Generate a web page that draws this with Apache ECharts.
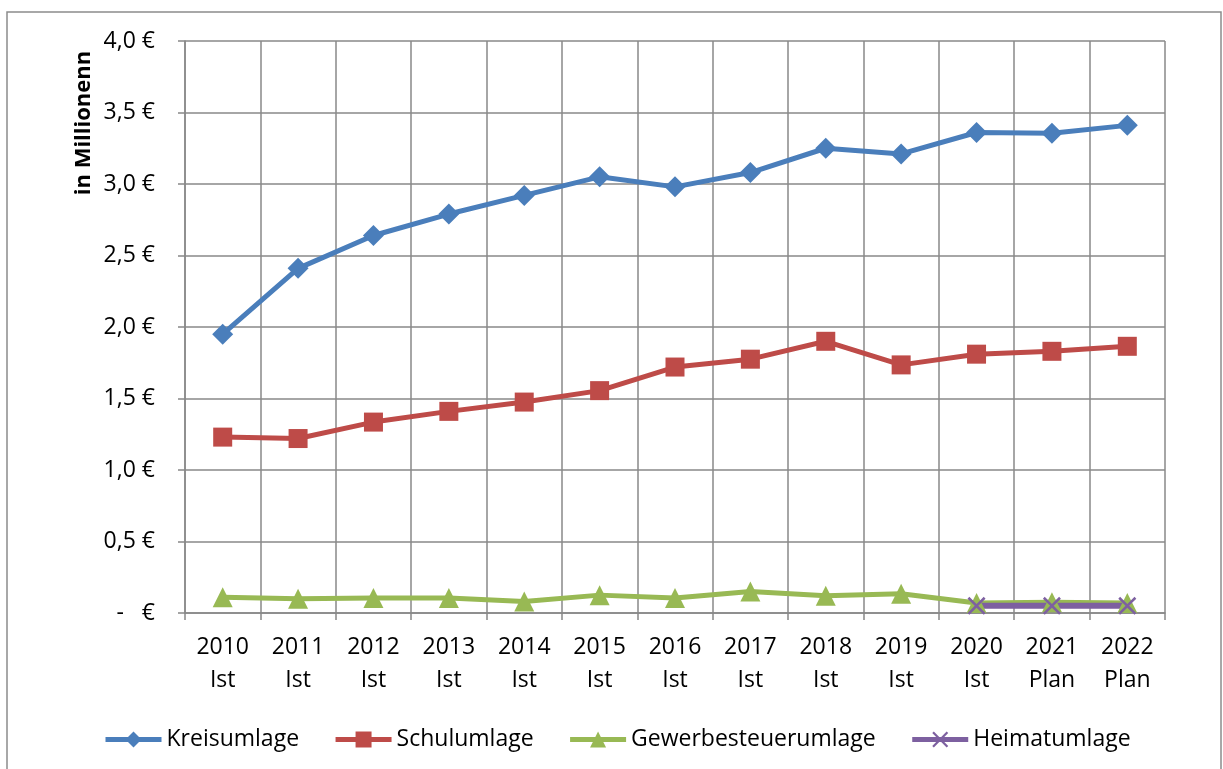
<!DOCTYPE html>
<html>
<head>
<meta charset="utf-8">
<title>Umlagen</title>
<script src="https://cdn.jsdelivr.net/npm/echarts@6/dist/echarts.min.js"></script>
<style>
  html, body { margin: 0; padding: 0; background: #fff; }
  #main { width: 1223px; height: 769px; }
</style>
</head>
<body>
<div id="main"></div>
<script>
// Kategorien (Jahr + Ist/Plan)
var years = ['2010', '2011', '2012', '2013', '2014', '2015', '2016', '2017', '2018', '2019', '2020', '2021', '2022'];
var kinds = ['Ist', 'Ist', 'Ist', 'Ist', 'Ist', 'Ist', 'Ist', 'Ist', 'Ist', 'Ist', 'Ist', 'Plan', 'Plan'];

// Werte in Mio. Euro
var kreisumlage = [1.95, 2.41, 2.64, 2.79, 2.92, 3.05, 2.98, 3.08, 3.25, 3.21, 3.36, 3.355, 3.41];
var schulumlage = [1.23, 1.22, 1.335, 1.41, 1.475, 1.555, 1.72, 1.775, 1.9, 1.735, 1.81, 1.83, 1.865];
var gewerbesteuerumlage = [0.11, 0.1, 0.105, 0.105, 0.08, 0.125, 0.105, 0.15, 0.12, 0.135, 0.07, 0.075, 0.07];
var heimatumlage = [null, null, null, null, null, null, null, null, null, null, 0.05, 0.05, 0.05];

// Achse
var yTicks = [0, 0.5, 1, 1.5, 2, 2.5, 3, 3.5, 4];

var categories = years.map(function (y, i) { return y + '\n' + kinds[i]; });

var FONT = 'Open Sans';
var crossPath = 'path://M0,1 L1,0 L5,4 L9,0 L10,1 L6,5 L10,9 L9,10 L5,6 L1,10 L0,9 L4,5 Z';

var myChart = echarts.init(document.getElementById('main'));

var option = {
    animation: false,
    backgroundColor: '#ffffff',
    textStyle: { fontFamily: FONT },
    graphic: [
        {
            type: 'rect',
            shape: { x: 7, y: 12, width: 1214, height: 780 },
            style: { fill: 'none', stroke: '#8c8c8c', lineWidth: 1.5 },
            silent: true
        },
        {
            type: 'text',
            x: 84,
            y: 123,
            rotation: Math.PI / 2,
            style: {
                text: 'in Millionenn',
                fontFamily: FONT,
                fontWeight: 'bold',
                fontSize: 22,
                fill: '#000',
                align: 'center',
                verticalAlign: 'middle'
            }
        }
    ],
    grid: { left: 185, right: 58, top: 41, bottom: 156, containLabel: false },
    legend: {
        left: 98,
        top: 723,
        itemWidth: 56,
        itemHeight: 20,
        itemGap: 34,
        lineStyle: { width: 5 },
        textStyle: { fontFamily: FONT, fontSize: 23, color: '#000' },
        data: ['Kreisumlage', 'Schulumlage', 'Gewerbesteuerumlage', 'Heimatumlage']
    },
    xAxis: {
        type: 'category',
        data: categories,
        boundaryGap: true,
        axisLine: { lineStyle: { color: '#888', width: 1.5 } },
        axisTick: { show: true, length: 7, inside: false, lineStyle: { color: '#888', width: 1.5 } },
        axisLabel: {
            interval: 0,
            margin: 18,
            fontFamily: FONT,
            fontSize: 23,
            lineHeight: 33,
            color: '#000',
            align: 'center'
        },
        splitLine: { show: true, interval: 0, lineStyle: { color: '#888', width: 1.5 } }
    },
    yAxis: {
        type: 'value',
        min: yTicks[0],
        max: yTicks[yTicks.length - 1],
        interval: 0.5,
        axisLine: { show: true, lineStyle: { color: '#888', width: 1.5 } },
        axisTick: { show: true, length: 7, lineStyle: { color: '#888', width: 1.5 } },
        axisLabel: {
            margin: 30,
            fontFamily: FONT,
            fontSize: 23,
            color: '#000',
            formatter: function (v) {
                if (v === 0) return '-   €';
                return v.toFixed(1).replace('.', ',') + ' €';
            }
        },
        splitLine: { show: true, lineStyle: { color: '#888', width: 1.5 } }
    },
    series: [
        {
            name: 'Kreisumlage',
            type: 'line',
            data: kreisumlage,
            symbol: 'diamond',
            symbolSize: 21,
            color: '#4a7ebb',
            lineStyle: { width: 5, color: '#4a7ebb' },
            itemStyle: { color: '#4a7ebb' }
        },
        {
            name: 'Schulumlage',
            type: 'line',
            data: schulumlage,
            symbol: 'rect',
            symbolSize: 19,
            color: '#be4b48',
            lineStyle: { width: 5, color: '#be4b48' },
            itemStyle: { color: '#be4b48' }
        },
        {
            name: 'Gewerbesteuerumlage',
            type: 'line',
            data: gewerbesteuerumlage,
            symbol: 'triangle',
            symbolSize: 20,
            color: '#98b954',
            lineStyle: { width: 5, color: '#98b954' },
            itemStyle: { color: '#98b954' }
        },
        {
            name: 'Heimatumlage',
            type: 'line',
            data: heimatumlage,
            symbol: crossPath,
            symbolSize: 18,
            color: '#7d60a0',
            lineStyle: { width: 6, color: '#7d60a0' },
            itemStyle: { color: '#7d60a0' }
        }
    ]
};

myChart.setOption(option);
</script>
</body>
</html>
